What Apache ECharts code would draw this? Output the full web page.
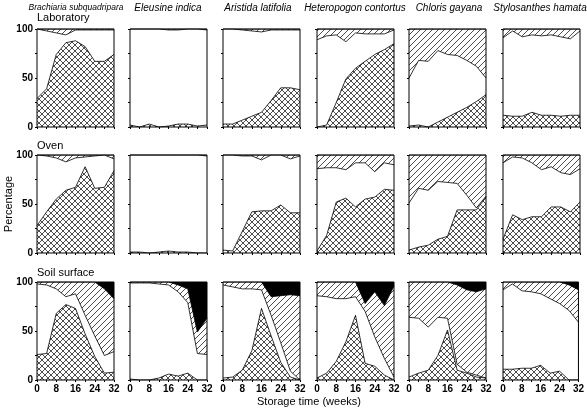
<!DOCTYPE html>
<html>
<head>
<meta charset="utf-8">
<script src="https://cdn.jsdelivr.net/npm/echarts@6/dist/echarts.min.js"></script>
<style>
html,body{margin:0;padding:0;background:#fff;}
#chart{width:587px;height:410px;}
</style>
</head>
<body>
<div id="chart"></div>
<script>
// ---------------- DATA ----------------
const weeks = [0, 4, 8, 12, 16, 20, 24, 28, 32];
const speciesNames = ['Brachiaria subquadripara', 'Eleusine indica', 'Aristida latifolia',
  'Heteropogon contortus', 'Chloris gayana', 'Stylosanthes hamata'];
const conditionNames = ['Laboratory', 'Oven', 'Soil surface'];
const yTickLabels = [0, 50, 100];
const xTickLabels = [0, 8, 16, 24, 32];

// Upper boundary (%) of the cross-hatched layer, one row per species
const labCross = [
  [29, 39, 74, 86, 88, 82, 67, 67, 74],
  [2, 0, 3, 0, 1, 3, 3, 1, 2],
  [3, 3, 7, 11, 15, 27, 40, 40, 38],
  [0, 2, 25, 49, 60, 67, 74, 79, 85],
  [1, 2, 0, 5, 10, 15, 20, 26, 33],
  [12, 11, 11, 15, 12, 12, 11, 12, 12]
];
// Upper boundary (%) of the white layer
const labWhite = [
  [100, 98, 96, 94, 99, 99, 99, 99, 99],
  [100, 100, 100, 100, 99, 99, 100, 100, 99],
  [100, 100, 99, 98, 97, 99, 99, 99, 99],
  [89, 93, 94, 87, 96, 95, 95, 95, 99],
  [50, 68, 67, 78, 74, 73, 68, 62, 50],
  [91, 98, 92, 94, 93, 94, 92, 90, 98]
];
// Upper boundary (%) of the diagonal-hatched layer (black above it)
const labHatch = [
  [100, 100, 100, 100, 100, 100, 100, 100, 100],
  [100, 100, 100, 100, 100, 100, 100, 100, 100],
  [100, 100, 100, 100, 100, 100, 100, 100, 100],
  [100, 100, 100, 100, 100, 100, 100, 100, 100],
  [100, 100, 100, 100, 100, 100, 100, 100, 100],
  [100, 100, 100, 100, 100, 100, 100, 100, 100]
];

const ovenCross = [
  [28, 42, 55, 64, 67, 88, 66, 67, 84],
  [1, 1, 0, 1, 2, 1, 1, 0, 0],
  [3, 2, 22, 42, 43, 43, 49, 41, 41],
  [2, 18, 52, 56, 47, 55, 57, 65, 64],
  [3, 6, 8, 14, 17, 44, 44, 44, 57],
  [14, 39, 34, 37, 37, 47, 47, 42, 52]
];
const ovenWhite = [
  [100, 99, 97, 93, 97, 98, 99, 100, 96],
  [100, 100, 100, 100, 100, 100, 100, 100, 99],
  [100, 100, 99, 99, 95, 100, 100, 96, 99],
  [86, 87, 87, 85, 92, 92, 83, 92, 90],
  [51, 66, 64, 73, 72, 71, 59, 46, 58],
  [92, 98, 97, 92, 85, 88, 82, 80, 86]
];
const ovenHatch = [
  [100, 100, 100, 100, 100, 100, 100, 100, 100],
  [100, 100, 100, 100, 100, 100, 100, 100, 100],
  [100, 100, 100, 100, 100, 100, 100, 100, 100],
  [100, 100, 100, 100, 100, 100, 100, 100, 100],
  [100, 100, 100, 100, 100, 100, 100, 100, 100],
  [100, 100, 100, 100, 100, 100, 100, 100, 100]
];

const soilCross = [
  [26, 27, 68, 77, 73, 47, 24, 7, 8],
  [1, 0, 0, 2, 6, 4, 7, 0, 0],
  [2, 3, 10, 30, 73, 45, 18, 3, 0],
  [2, 7, 19, 39, 66, 17, 14, 5, 0],
  [3, 7, 10, 25, 51, 10, 7, 3, 2],
  [11, 11, 12, 12, 15, 7, 9, 0, 0]
];
const soilWhite = [
  [98, 97, 93, 85, 88, 66, 45, 25, 29],
  [99, 99, 99, 98, 97, 90, 79, 27, 26],
  [97, 95, 93, 93, 92, 66, 38, 9, 0],
  [86, 85, 83, 83, 85, 70, 44, 22, 3],
  [64, 63, 54, 64, 63, 16, 8, 5, 2],
  [92, 98, 91, 90, 88, 83, 78, 71, 59]
];
const soilHatch = [
  [100, 100, 100, 100, 100, 100, 100, 93, 83],
  [100, 100, 100, 100, 100, 97, 93, 49, 63],
  [100, 100, 100, 100, 100, 85, 86, 87, 86],
  [100, 100, 100, 100, 100, 78, 90, 76, 96],
  [100, 100, 100, 100, 100, 97, 92, 90, 93],
  [100, 100, 100, 100, 100, 100, 100, 97, 92]
];

const rows = [
  { cross: labCross, white: labWhite, hatch: labHatch },
  { cross: ovenCross, white: ovenWhite, hatch: ovenHatch },
  { cross: soilCross, white: soilWhite, hatch: soilHatch }
];

// ---------------- LAYOUT ----------------
const colLeft = [37, 130, 223, 317, 409, 503];
const rowTop = [29, 155, 282];
const W = 77, H = 98;
const FONT = '"Liberation Sans", Arial, Helvetica, sans-serif';

function makePattern(cross, s) {
  const cv = document.createElement('canvas');
  cv.width = s; cv.height = s;
  const g = cv.getContext('2d');
  g.fillStyle = '#fff';
  g.fillRect(0, 0, s, s);
  g.strokeStyle = '#111';
  g.lineWidth = 0.75;
  g.beginPath();
  g.moveTo(-1, s + 1); g.lineTo(s + 1, -1);
  g.moveTo(-1, 1); g.lineTo(1, -1);
  g.moveTo(s - 1, s + 1); g.lineTo(s + 1, s - 1);
  if (cross) {
    g.moveTo(-1, -1); g.lineTo(s + 1, s + 1);
    g.moveTo(-1, s - 1); g.lineTo(1, s + 1);
    g.moveTo(s - 1, -1); g.lineTo(s + 1, 1);
  }
  g.stroke();
  return cv;
}
const hatchPat = { image: makePattern(false, 6), repeat: 'repeat' };
const crossPat = { image: makePattern(true, 6), repeat: 'repeat' };

const grids = [], xAxes = [], yAxes = [], series = [];
function pairs(arr) { return weeks.map((w, i) => [w, arr[i]]); }

for (let r = 0; r < 3; r++) {
  for (let c = 0; c < 6; c++) {
    const gi = r * 6 + c;
    grids.push({
      left: colLeft[c], top: rowTop[r], width: W, height: H,
      show: true, borderColor: '#000', borderWidth: 1, z: 10,
      backgroundColor: 'rgba(0,0,0,0)'
    });
    xAxes.push({
      gridIndex: gi, type: 'value', min: 0, max: 32, interval: 4,
      axisLine: { show: false },
      axisTick: { show: true, inside: false, length: 2, lineStyle: { color: '#000', width: 1 } },
      splitLine: { show: false },
      axisLabel: {
        show: r === 2, margin: 4, fontSize: 10, fontWeight: 'bold', color: '#000', fontFamily: FONT,
        formatter: v => (xTickLabels.indexOf(v) >= 0 ? String(v) : '')
      }
    });
    yAxes.push({
      gridIndex: gi, type: 'value', min: 0, max: 100, interval: 25,
      axisLine: { show: false },
      axisTick: { show: true, inside: false, length: 2, lineStyle: { color: '#000', width: 1 } },
      splitLine: { show: false },
      axisLabel: {
        show: c === 0, margin: 4, fontSize: 10, fontWeight: 'bold', color: '#000', fontFamily: FONT,
        formatter: v => (yTickLabels.indexOf(v) >= 0 ? String(v) : '')
      }
    });
    const d = rows[r];
    const base = {
      type: 'line', xAxisIndex: gi, yAxisIndex: gi, showSymbol: false, symbol: 'none',
      silent: true, animation: false,
      lineStyle: { color: '#000', width: 0.8 }
    };
    // black (top) layer: fills the whole panel, covered by the layers below it
    if (d.hatch[c].some(v => v < 100)) {
      series.push(Object.assign({}, base, {
        name: 'black' + gi, z: 2,
        data: weeks.map(w => [w, 100]),
        lineStyle: { width: 0 },
        areaStyle: { color: '#000', opacity: 1 }
      }));
    }
    series.push(Object.assign({}, base, {
      name: 'hatch' + gi, z: 3, data: pairs(d.hatch[c]),
      areaStyle: { color: hatchPat, opacity: 1 }
    }));
    series.push(Object.assign({}, base, {
      name: 'white' + gi, z: 4, data: pairs(d.white[c]),
      areaStyle: { color: '#fff', opacity: 1 }
    }));
    series.push(Object.assign({}, base, {
      name: 'cross' + gi, z: 5, data: pairs(d.cross[c]),
      areaStyle: { color: crossPat, opacity: 1 }
    }));
  }
}

// ---------------- TEXT ----------------
const graphics = [];
const titleX = [76, 168, 258, 355, 449, 540];
speciesNames.forEach((s, i) => {
  graphics.push({
    type: 'text', x: titleX[i], y: 8,
    style: {
      text: s, fill: '#000', textAlign: 'center', textVerticalAlign: 'middle',
      font: 'italic ' + (i === 0 ? '8.5px ' : '10px ') + FONT
    }
  });
});
const condY = [18, 146, 273];
conditionNames.forEach((s, i) => {
  graphics.push({
    type: 'text', x: 37, y: condY[i],
    style: { text: s, fill: '#000', textAlign: 'left', textVerticalAlign: 'middle', font: '11px ' + FONT }
  });
});
graphics.push({
  type: 'text', x: 9, y: 204, rotation: Math.PI / 2,
  style: { text: 'Percentage', fill: '#000', textAlign: 'center', textVerticalAlign: 'middle', font: '11px ' + FONT }
});
graphics.push({
  type: 'text', x: 309, y: 402,
  style: { text: 'Storage time (weeks)', fill: '#000', textAlign: 'center', textVerticalAlign: 'middle', font: '11px ' + FONT }
});

const chart = echarts.init(document.getElementById('chart'), null, { renderer: 'canvas' });
chart.setOption({
  backgroundColor: '#fff',
  animation: false,
  grid: grids,
  xAxis: xAxes,
  yAxis: yAxes,
  series: series,
  graphic: graphics
});
</script>
</body>
</html>
